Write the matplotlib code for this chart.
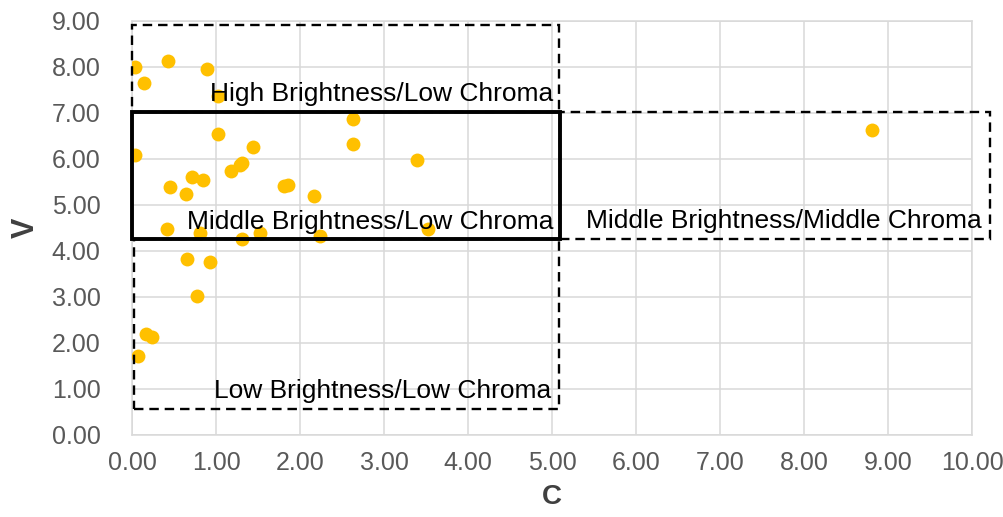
import matplotlib
matplotlib.use("Agg")
import matplotlib.pyplot as plt
from matplotlib.patches import Rectangle

plt.rcParams['font.family'] = ['Liberation Sans', 'DejaVu Sans']

# Data (C = chroma, V = value/brightness)
c_values = [0.03, 0.43, 0.14, 0.89, 1.02, 2.63, 1.02, 2.63, 0.03, 1.44, 3.39, 1.31, 1.28,
            1.18, 0.71, 0.84, 0.45, 0.64, 1.81, 1.85, 2.16, 0.41, 0.80, 1.30, 1.52, 2.23,
            3.52, 0.65, 0.92, 0.77, 0.16, 0.24, 0.07, 8.81]
v_values = [8.00, 8.13, 7.65, 7.94, 7.36, 6.86, 6.54, 6.32, 6.07, 6.25, 5.97, 5.90, 5.87,
            5.73, 5.61, 5.54, 5.39, 5.23, 5.41, 5.42, 5.19, 4.47, 4.38, 4.25, 4.38, 4.33,
            4.48, 3.82, 3.75, 3.02, 2.20, 2.13, 1.72, 6.62]

# Region boxes
region_names = ["High Brightness/Low Chroma", "Middle Brightness/Low Chroma",
                "Low Brightness/Low Chroma", "Middle Brightness/Middle Chroma"]
region_c_min = [0.0, 0.0, 0.02, 5.09]
region_c_max = [5.08, 5.09, 5.08, 10.21]
region_v_min = [7.02, 4.25, 0.57, 4.25]
region_v_max = [8.90, 7.02, 4.25, 7.02]
region_solid = [False, True, False, False]
label_c = [5.01, 5.01, 4.99, 10.11]
label_v = [7.26, 4.47, 0.79, 4.49]

x_ticks = [0, 1, 2, 3, 4, 5, 6, 7, 8, 9, 10]
y_ticks = [0, 1, 2, 3, 4, 5, 6, 7, 8, 9]

fig = plt.figure(figsize=(10.04, 5.17), dpi=100)
ax = fig.add_axes([0.1318, 0.159, 0.8366, 0.801])

ax.set_xlim(0, 10)
ax.set_ylim(0, 9)
ax.set_xticks(x_ticks)
ax.set_yticks(y_ticks)
ax.set_xticklabels([f"{t:.2f}" for t in x_ticks])
ax.set_yticklabels([f"{t:.2f}" for t in y_ticks])
ax.grid(True, color='#d9d9d9', linewidth=1.1)
ax.set_axisbelow(True)
for s in ax.spines.values():
    s.set_color('#d9d9d9')
    s.set_linewidth(1.1)
ax.tick_params(axis='both', length=0, labelsize=18, colors='#595959')
ax.tick_params(axis='y', pad=23)
ax.tick_params(axis='x', pad=12)

ax.scatter(c_values, v_values, s=100, color='#FFC000', zorder=3, linewidths=0)

for i in range(len(region_names)):
    x0, x1 = region_c_min[i], region_c_max[i]
    y0, y1 = region_v_min[i], region_v_max[i]
    if region_solid[i]:
        r = Rectangle((x0, y0), x1 - x0, y1 - y0, fill=False, edgecolor='black',
                      linewidth=2.8, zorder=5, clip_on=False)
    else:
        r = Rectangle((x0, y0), x1 - x0, y1 - y0, fill=False, edgecolor='black',
                      linewidth=1.7, linestyle=(0, (4, 2.5)), zorder=4, clip_on=False)
    ax.add_patch(r)
    ax.text(label_c[i], label_v[i], region_names[i], ha='right', va='baseline',
            fontsize=19, color='black', zorder=6, clip_on=False)

ax.set_xlabel("C", fontsize=20, fontweight='bold', color='#404040', labelpad=6)
ax.set_ylabel("V", fontsize=22, fontweight='bold', color='#404040', labelpad=8)

fig.savefig("out.png", dpi=100)
